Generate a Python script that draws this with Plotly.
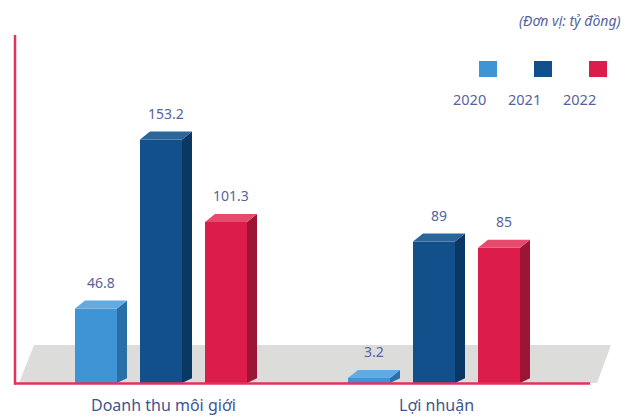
import plotly.graph_objects as go

# ---- data ----
categories = ["Doanh thu môi giới", "Lợi nhuận"]
years = ["2020", "2021", "2022"]
values_2020 = [46.8, 3.2]
values_2021 = [153.2, 89]
values_2022 = [101.3, 85]
series_values = [values_2020, values_2021, values_2022]
unit_note = "(Đơn vị: tỷ đồng)"

# ---- styling ----
W, H = 629, 416
front_colors = ["#3f94d6", "#12508c", "#dc1c4b"]
side_colors = ["#2b6fa8", "#0b3764", "#9c1536"]
top_colors = ["#62abe2", "#2a6699", "#e64a6c"]
label_color = "#5563a0"
axis_red = "#e5315a"
floor_gray = "#dcdcda"
font_family = "'Noto Sans', Lato, sans-serif"

# pixel geometry of the plotting scale (plot area fills the whole figure)
group_px0 = 161.0      # pixel x of first group centre
group_px = 273.0       # pixel distance between groups
base_py = 383.0        # pixel y of the zero line
px_per_unit = 1.59     # vertical pixels per data unit
bar_offset = 65.0 / group_px
bar_width = 42.0 / group_px
depth_x = 10.0 / group_px
depth_y = 8.0 / px_per_unit

x_range = [(0 - group_px0) / group_px, (W - group_px0) / group_px]
y_range = [-(H - base_py) / px_per_unit, base_py / px_per_unit]


def px_x(p):
    return p / W


def px_y(p):
    return 1 - p / H


fig = go.Figure()

# floor plane behind the bars
fig.add_shape(
    type="path",
    xref="paper", yref="paper",
    path=(f"M {px_x(19)} {px_y(383)} L {px_x(34)} {px_y(345)} "
          f"L {px_x(611)} {px_y(345)} L {px_x(597)} {px_y(383)} Z"),
    fillcolor=floor_gray, line=dict(width=0), layer="below",
)

annotations = []
for si, (year, vals) in enumerate(zip(years, series_values)):
    xs = [gi + (si - 1) * bar_offset for gi in range(len(categories))]
    # front faces
    fig.add_trace(go.Bar(
        x=xs, y=vals, width=bar_width,
        marker=dict(color=front_colors[si], line=dict(width=0)),
        name=year, showlegend=False, hoverinfo="skip",
    ))
    for xc, v in zip(xs, vals):
        left, right = xc - bar_width / 2, xc + bar_width / 2
        # right side face
        fig.add_trace(go.Scatter(
            x=[right, right + depth_x, right + depth_x, right, right],
            y=[0, depth_y * 0.6, v + depth_y, v, 0],
            fill="toself", fillcolor=side_colors[si], mode="none",
            showlegend=False, hoverinfo="skip",
        ))
        # top face
        fig.add_trace(go.Scatter(
            x=[left, left + depth_x, right + depth_x, right, left],
            y=[v, v + depth_y, v + depth_y, v, v],
            fill="toself", fillcolor=top_colors[si], mode="none",
            showlegend=False, hoverinfo="skip",
        ))
        annotations.append(dict(
            x=xc + depth_x / 2, y=v + depth_y, xref="x", yref="y",
            text=f"{v:g}", showarrow=False, yanchor="middle", yshift=18,
            font=dict(size=14, color=label_color, family=font_family),
        ))

# category labels under the baseline
for gi, cat in enumerate(categories):
    annotations.append(dict(
        x=gi + 0.01, y=px_y(405), xref="x", yref="paper",
        text=cat, showarrow=False, yanchor="middle",
        font=dict(size=16, color="#3d5690", family=font_family),
    ))

# unit note
annotations.append(dict(
    x=px_x(623), y=px_y(20), xref="paper", yref="paper",
    text=f"<i>{unit_note}</i>", showarrow=False,
    xanchor="right", yanchor="middle",
    font=dict(size=14, color=label_color, family=font_family),
))

# legend: coloured squares above the year labels
legend_px = [488, 543, 598]
for si, year in enumerate(years):
    cx = legend_px[si]
    fig.add_shape(
        type="rect", xref="paper", yref="paper",
        x0=px_x(cx - 9), x1=px_x(cx + 9), y0=px_y(77), y1=px_y(61),
        fillcolor=front_colors[si], line=dict(width=0),
    )
    annotations.append(dict(
        x=px_x(cx), y=px_y(99), xref="paper", yref="paper",
        text=year, showarrow=False, yanchor="middle",
        font=dict(size=14.5, color=label_color, family=font_family),
    ))

# red axis lines
fig.add_shape(type="line", xref="paper", yref="paper",
              x0=px_x(15), x1=px_x(15), y0=px_y(35), y1=px_y(384.5),
              line=dict(color=axis_red, width=2.5))
fig.add_shape(type="line", xref="paper", yref="paper",
              x0=px_x(14), x1=px_x(590), y0=px_y(383.5), y1=px_y(383.5),
              line=dict(color=axis_red, width=2.5))

fig.update_layout(
    width=W, height=H,
    margin=dict(l=0, r=0, t=0, b=0),
    paper_bgcolor="white", plot_bgcolor="rgba(0,0,0,0)",
    barmode="overlay",
    xaxis=dict(range=x_range, visible=False, fixedrange=True),
    yaxis=dict(range=y_range, visible=False, fixedrange=True),
    annotations=annotations,
    showlegend=False,
)

fig.write_html("out.html")
